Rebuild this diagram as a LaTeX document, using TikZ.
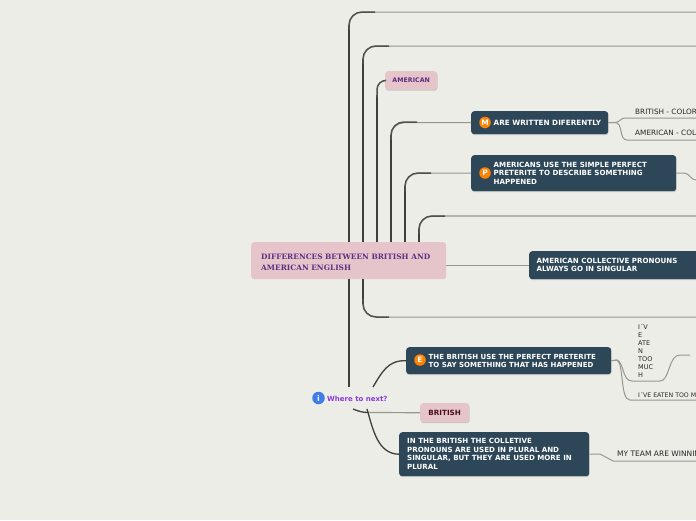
\documentclass[tikz,border=0pt]{standalone}
\usepackage{fontspec}
\setmainfont{DejaVu Sans}
\newfontfamily\titlefont{DejaVu Serif}
\usepackage{tikz}
\usetikzlibrary{positioning, calc, shadows}
\usepackage{xcolor}
\definecolor{bgcolor}{RGB}{236,237,231}
\definecolor{darkcolor}{RGB}{45,71,89}
\definecolor{pinkcolor}{RGB}{230,197,202}
\definecolor{purplecolor}{RGB}{92,45,130}
\definecolor{maroncolor}{RGB}{74,13,32}
\definecolor{nextcolor}{RGB}{138,59,224}
\definecolor{trunkcolor}{RGB}{62,64,60}
\definecolor{twigcolor}{RGB}{150,151,145}
\definecolor{iconcolor}{RGB}{255,130,0}
\definecolor{infocolor}{RGB}{60,125,230}

\begin{document}
\begin{tikzpicture}[
    x=1pt, y=-1pt,
    darkbox/.style={rectangle, fill=darkcolor, rounded corners=3pt, anchor=north west, inner sep=0pt, drop shadow={shadow xshift=0.4pt, shadow yshift=-1pt, opacity=0.3}},
    darktext/.style={anchor=west, inner sep=0pt, align=left, text=white, font=\fontsize{7.1}{8.4}\selectfont\bfseries},
    pinkbox/.style={rectangle, fill=pinkcolor, rounded corners=3pt, anchor=north west, align=center, inner sep=0pt, drop shadow={shadow xshift=0.4pt, shadow yshift=-1pt, opacity=0.35}},
    iconnode/.style={circle, fill=iconcolor, text=white, inner sep=0pt, minimum size=11.5pt, font=\fontsize{7.5}{8}\selectfont\bfseries},
    leaf/.style={anchor=west, inner sep=0pt, align=left, text=black!85, font=\fontsize{7.3}{8}\selectfont},
    trunk/.style={draw=trunkcolor, line width=2.4pt},
    curl/.style={draw=trunkcolor!80!twigcolor, line width=1.5pt, rounded corners=13pt},
    twig/.style={draw=twigcolor, line width=1pt},
    stem/.style={draw=trunkcolor, line width=1.3pt}
]
\useasboundingbox (0,0) rectangle (696,520);
\clip (0,0) rectangle (696,520);
\fill[bgcolor] (0,0) rectangle (696,520);

% free ends at the right edge
\coordinate (endA) at (696,12);
\coordinate (endB) at (696,46);
\coordinate (endC) at (696,216);
\coordinate (endD) at (696,317);
\coordinate (endE) at (696,180);
\coordinate (endF) at (696,118);
\coordinate (endG) at (696,140);
\coordinate (endH) at (696,400);
\coordinate (endI) at (696,461);
\coordinate (endJ) at (690,355);

% foot of each branch on the root
\coordinate (footA) at (349,260);
\coordinate (footB) at (363,260);
\coordinate (footC) at (377,260);
\coordinate (footD) at (391,260);
\coordinate (footE) at (405,260);
\coordinate (footF) at (419,260);
\coordinate (footG) at (349,387);
\coordinate (nextN) at (373,387);
\coordinate (nextS) at (353,409);
\coordinate (nextT) at (367,409);

\node[pinkbox, minimum width=52pt, minimum height=18.5pt, text=purplecolor, font=\fontsize{6.3}{8}\selectfont\bfseries] (american) at (385,71) {AMERICAN};
\node[darkbox, minimum width=137pt, minimum height=23pt] (written) at (471,111) {};
\node[iconnode] (iconM) at (485,122.5) {M};
\node[darktext, font=\fontsize{7.25}{8.4}\selectfont\bfseries] (writtentext) at (493.5,122.5) {ARE WRITTEN DIFERENTLY};
\node[darkbox, minimum width=205pt, minimum height=36pt] (simple) at (471,155) {};
\node[iconnode] (iconP) at (485,173) {P};
\node[darktext] (simpletext) at (493.5,173) {AMERICANS USE THE SIMPLE PERFECT\\PRETERITE TO DESCRIBE SOMETHING\\HAPPENED};
\node[darkbox, minimum width=180pt, minimum height=28pt] (collective) at (529,251) {};
\node[darktext, font=\fontsize{7.1}{8.8}\selectfont\bfseries] (collectivetext) at (536.5,265) {AMERICAN COLLECTIVE PRONOUNS\\ALWAYS GO IN SINGULAR};
\node[darkbox, minimum width=205pt, minimum height=27pt] (perfect) at (406,347) {};
\node[iconnode] (iconE) at (420,360) {E};
\node[darktext, font=\fontsize{7}{8}\selectfont\bfseries] (perfecttext) at (428.5,360.5) {THE BRITISH USE THE PERFECT PRETERITE\\TO SAY SOMETHING THAT HAS HAPPENED};
\node[pinkbox, minimum width=49pt, minimum height=19pt, text=maroncolor, font=\fontsize{7.2}{8}\selectfont\bfseries] (british) at (420,403) {BRITISH};
\node[darkbox, minimum width=190pt, minimum height=44pt] (plural) at (399,432) {};
\node[darktext] (pluraltext) at (407,454) {IN THE BRITISH THE COLLETIVE\\PRONOUNS ARE USED IN PLURAL AND\\SINGULAR, BUT THEY ARE USED MORE IN\\PLURAL};

\node[circle, fill=infocolor, text=white, inner sep=0pt, minimum size=12.5pt, font=\fontsize{8}{8}\selectfont\bfseries] (iconI) at (318.5,398) {i};
\node[anchor=west, inner sep=0pt, text=nextcolor, font=\fontsize{7}{8}\selectfont\bfseries] (next) at (327,398.5) {Where to next?};

\node[leaf] (colorBr) at (635,111.5) {BRITISH - COLOR};
\node[leaf] (colorAm) at (635,132.5) {AMERICAN - COLOUR};
\node[leaf, font=\fontsize{6.5}{8}\selectfont] (eatenA) at (638,351) {I´V\\E\\ATE\\N\\TOO\\MUC\\H};
\node[leaf, font=\fontsize{6.2}{8}\selectfont] (eatenB) at (638,395) {I´VE EATEN TOO MUCH};
\node[leaf, font=\fontsize{7.5}{8}\selectfont] (team) at (617,454) {MY TEAM ARE WINNING};

% branches above the root
\draw[twig, rounded corners=13pt] (footA) |- (endA);
\draw[trunk] (footA) -- (349,25);
\draw[curl] (349,30) |- (375,12);
\draw[twig, rounded corners=13pt] (footB) |- (endB);
\draw[trunk] (footB) -- (363,59);
\draw[curl] (363,64) |- (389,46);
\draw[trunk] (footC) -- (377,95);
\draw[curl, rounded corners=9pt] (377,98) |- (american.west);
\draw[twig, rounded corners=13pt] (footD) |- (written.west);
\draw[trunk] (footD) -- (391,135);
\draw[curl] (391,140) |- (417,122);
\draw[twig, rounded corners=13pt] (footE) |- (simple.west);
\draw[trunk] (footE) -- (405,186);
\draw[curl] (405,191) |- (431,173);
\draw[twig, rounded corners=13pt, line width=1.2pt] (footF) |- (endC);
\draw[trunk] (footF) -- (419,229);
\draw[curl] (419,234) |- (445,216);

\node[rectangle, fill=pinkcolor, rounded corners=3pt, minimum width=195pt, minimum height=37pt, anchor=north west, inner sep=0pt] (root) at (251,242) {};
\node[anchor=west, inner sep=0pt, align=left, text=purplecolor, font=\titlefont\fontsize{7.4}{11}\selectfont\bfseries] (roottext) at (261,262.5) {DIFFERENCES BETWEEN BRITISH AND\\AMERICAN ENGLISH};

% branches below the root
\draw[trunk] (root.south -| footG) -- (footG);
\draw[twig, rounded corners=13pt] (root.south -| footB) |- (endD);
\draw[trunk] (root.south -| footB) -- (363,304);
\draw[curl] (363,299) |- (389,317);
\draw[twig] (root.east |- collective.west) -- (collective.west);

\draw[stem] (nextN) .. controls (382,372) and (388,360) .. (perfect.west);
\draw[stem] (nextS) .. controls (358,411) and (362,412.5) .. (368,412.5);
\draw[twig, line width=1.2pt] (368,412.5) -- (british.west);
\draw[stem] (nextT) .. controls (373,430) and (378,454) .. (plural.west);

% leaves
\draw[twig] (written.east) -- (615,122.5) to[out=0, in=180] (625,118) -- (endF);
\draw[twig] (written.east) -- (615,122.5) to[out=0, in=180] (627,140) -- (endG);
\draw[twig] (simple.east) -- (684,173) to[out=0, in=180] (endE);
\draw[twig] (perfect.east) -- (617,360) .. controls (624,362) and (622,381) .. (632,381) -- (660,381) .. controls (670,381) and (668,355) .. (680,355) -- (endJ);
\draw[twig] (perfect.east) -- (617,360) .. controls (624,364) and (620,400) .. (630,400) -- (endH);
\draw[twig] (plural.east) -- (600,454) -- (613,461) -- (endI);
\end{tikzpicture}
\end{document}
